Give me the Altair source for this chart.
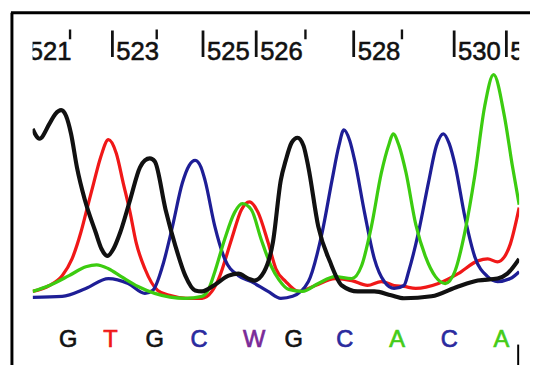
import altair as alt
import pandas as pd

# ---- trace data (scan position, intensity) ----
black_x = [0, 7, 17, 23, 29, 34, 39, 45, 53, 64, 70, 76, 82, 89, 99, 109, 114, 119, 124, 135, 145, 155, 165, 172, 184, 199, 209, 219, 225, 235, 244, 252, 257, 263, 269, 275, 280, 290, 302, 314, 330, 347, 364, 377, 405, 432, 452, 472, 482, 494]
black_y = [172, 162, 177, 187, 191, 185, 167, 133, 100, 67, 50, 43, 50, 67, 100, 133, 140, 142, 139, 90, 53, 23, 8, 7, 13, 23, 25, 20, 18, 27, 57, 120, 140, 158, 163, 155, 133, 73, 37, 13, 7, 7, 3, 0, 2, 12, 18, 20, 25, 40]

red_x = [0, 17, 30, 40, 49, 55, 62, 69, 77, 85, 92, 99, 105, 114, 127, 139, 157, 172, 182, 189, 202, 212, 220, 229, 239, 247, 257, 270, 287, 307, 324, 340, 354, 367, 377, 389, 412, 432, 452, 462, 472, 479, 485, 494]
red_y = [7, 13, 23, 40, 67, 90, 117, 143, 161, 147, 117, 87, 57, 30, 8, 3, 0, 0, 7, 20, 60, 90, 98, 87, 57, 30, 17, 7, 13, 20, 18, 13, 17, 13, 12, 10, 15, 25, 38, 40, 37, 42, 55, 92]

green_x = [0, 17, 37, 54, 65, 77, 90, 107, 124, 155, 172, 179, 185, 195, 205, 213, 222, 232, 242, 250, 260, 274, 290, 307, 324, 334, 344, 354, 362, 366, 372, 379, 389, 399, 409, 419, 429, 439, 449, 459, 468, 479, 487, 494]
green_y = [7, 13, 23, 32, 34, 30, 22, 12, 5, 0, 2, 10, 27, 60, 87, 96, 90, 60, 33, 19, 9, 7, 15, 22, 20, 33, 73, 127, 157, 167, 155, 128, 75, 42, 22, 15, 28, 68, 125, 195, 227, 185, 135, 95]

blue_x = [0, 30, 54, 77, 97, 114, 122, 132, 142, 152, 159, 165, 171, 175, 185, 195, 209, 222, 239, 252, 264, 280, 294, 304, 311, 316, 322, 327, 337, 347, 357, 367, 377, 382, 392, 402, 410, 417, 423, 429, 439, 449, 462, 472, 485, 494]
blue_y = [1, 2, 10, 20, 15, 5, 8, 33, 73, 117, 135, 140, 133, 120, 73, 40, 23, 17, 7, 0, 2, 17, 67, 120, 155, 171, 160, 140, 87, 40, 17, 10, 13, 28, 68, 118, 155, 167, 157, 135, 82, 42, 22, 17, 20, 27]

# ---- position ruler along the top ----
tick_pos = [-8, 38, 81, 126, 173, 227, 277, 326, 375, 428, 481]
tick_num = ["521", "522", "523", "524", "525", "526", "527", "528", "529", "530", "531"]
tick_labeled = [True, False, True, False, True, True, False, True, False, True, True]

# ---- base calls along the bottom ----
base_pos = [36, 79, 124, 169, 225, 265, 317, 370, 423, 476]
base_call = ["G", "T", "G", "C", "W", "G", "C", "A", "C", "A"]
call_names = ["G", "T", "C", "W", "A"]
call_colors = ["#111111", "#f01818", "#2a2a9e", "#7a2a98", "#44cc18"]

xs = alt.Scale(domain=[0, 494], nice=False, zero=False)
ys = alt.Scale(domain=[-65, 290], nice=False, zero=False)


def trace(xv, yv, color, width):
    df = pd.DataFrame({"scan": xv, "signal": yv})
    return alt.Chart(df).mark_line(color=color, strokeWidth=width, interpolate="monotone", clip=True).encode(
        x=alt.X("scan:Q", scale=xs, axis=None),
        y=alt.Y("signal:Q", scale=ys, axis=None),
    )


ticks = pd.DataFrame({"pos": tick_pos, "num": tick_num, "lab": tick_labeled})
long_t = ticks[ticks["lab"]]
short_t = ticks[~ticks["lab"]]

long_rules = alt.Chart(long_t).mark_rule(color="#111111", strokeWidth=2.8, clip=True).encode(
    x=alt.X("pos:Q", scale=xs, axis=None),
    y=alt.datum(272, scale=ys),
    y2=alt.datum(245),
)
short_rules = alt.Chart(short_t).mark_rule(color="#111111", strokeWidth=2.4, clip=True).encode(
    x=alt.X("pos:Q", scale=xs, axis=None),
    y=alt.datum(273, scale=ys),
    y2=alt.datum(263),
)
labels = alt.Chart(long_t).mark_text(
    align="left", baseline="alphabetic", dx=4, fontSize=26,
    font="Liberation Sans Narrow, Arial Narrow, Liberation Sans, Arial", color="#111111", clip=True,
    stroke="#111111", strokeWidth=0.6,
).encode(
    x=alt.X("pos:Q", scale=xs, axis=None),
    y=alt.datum(242, scale=ys),
    text="num:N",
)

bases = pd.DataFrame({"pos": base_pos, "call": base_call})
call_scale = alt.Scale(domain=call_names, range=call_colors)
base_text = alt.Chart(bases).mark_text(
    align="center", baseline="alphabetic", fontSize=24, font="Liberation Sans, Arial", clip=True,
    strokeWidth=0.7,
).encode(
    x=alt.X("pos:Q", scale=xs, axis=None),
    y=alt.datum(-49, scale=ys),
    text="call:N",
    color=alt.Color("call:N", scale=call_scale, legend=None),
    stroke=alt.Stroke("call:N", scale=call_scale, legend=None),
)

frame_left = alt.Chart().mark_rule(color="#000000", strokeWidth=3).encode(
    x=alt.value(-21), y=alt.value(0), y2=alt.value(360)
)
frame_top = alt.Chart().mark_rule(color="#000000", strokeWidth=3).encode(
    x=alt.value(-22), x2=alt.value(510), y=alt.value(0)
)
frame_tick = alt.Chart().mark_rule(color="#000000", strokeWidth=2).encode(
    x=alt.value(493), y=alt.value(337), y2=alt.value(360)
)

chart = alt.layer(
    trace(red_x, red_y, "#f01818", 3.3),
    trace(blue_x, blue_y, "#1e1e96", 3.3),
    trace(green_x, green_y, "#3ccc10", 3.3),
    trace(black_x, black_y, "#111111", 4.2),
    long_rules, short_rules, labels, base_text,
    frame_left, frame_top, frame_tick,
).properties(
    width=494, height=355,
    padding={"left": 25, "top": 2, "right": 11, "bottom": 0},
    autosize="none", background="white",
).configure_view(strokeWidth=0)

chart.save("out.html", embed_options={"renderer": "svg", "actions": False})
